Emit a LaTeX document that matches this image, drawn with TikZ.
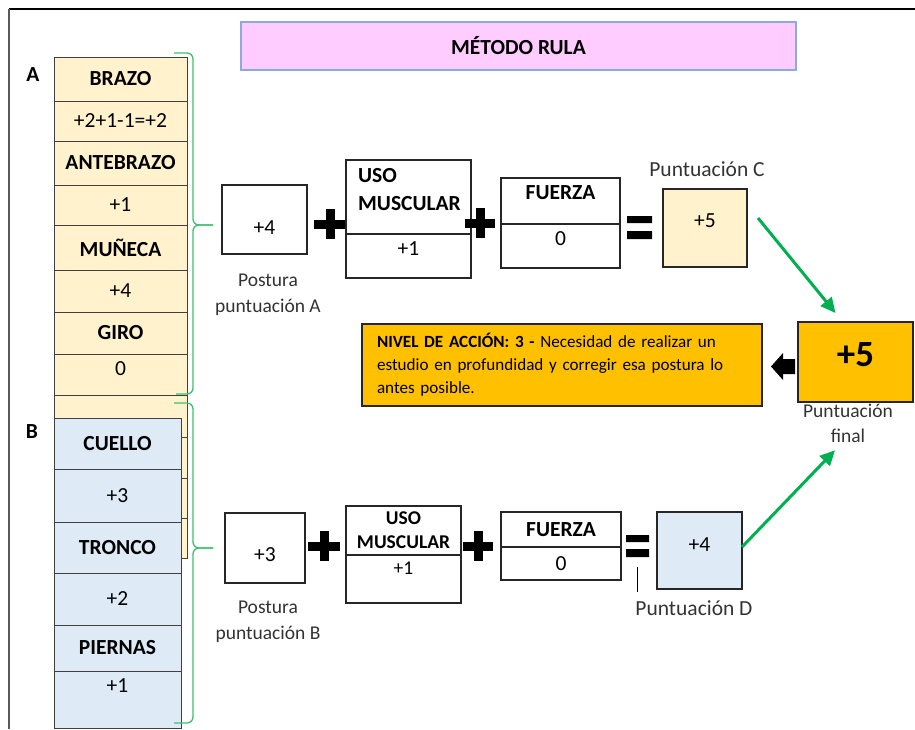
\documentclass[tikz,border=0pt]{standalone}
\usepackage{fontspec}
\setmainfont{Carlito}
\usepackage{xcolor}
\usepackage{tikz}
\usetikzlibrary{positioning, arrows.meta}

\definecolor{beige}{HTML}{FFF2CC}
\definecolor{paleblue}{HTML}{DEEBF7}
\definecolor{amber}{HTML}{FFC000}
\definecolor{titlepink}{HTML}{FFCCFF}
\definecolor{titleblue}{HTML}{8EA9DB}
\definecolor{cellline}{HTML}{404040}
\definecolor{boxline}{HTML}{262626}
\definecolor{lblgray}{HTML}{333333}
\definecolor{bracegreen}{HTML}{3CBF6E}
\definecolor{flowgreen}{HTML}{00B050}

\newcommand{\txtfont}{\fontsize{21.5}{25}\selectfont}
\newcommand{\lblfont}{\fontsize{19.5}{25.5}\selectfont}
\newcommand{\notefont}{\fontsize{17.1}{23}\selectfont}
\newcommand{\scorefont}{\fontsize{37}{40}\selectfont}

\begin{document}
\begin{tikzpicture}[x=1pt, y=-1pt,
    cell/.style={draw=cellline, line width=1pt, outer sep=0pt, inner sep=0pt, font=\txtfont},
    cellA/.style={cell, fill=beige, minimum width=133pt},
    cellB/.style={cell, fill=paleblue, minimum width=127pt},
    box/.style={draw=boxline, line width=1.2pt, outer sep=0pt, inner sep=0pt, font=\txtfont},
    lbl/.style={font=\lblfont, text=lblgray, align=center, inner sep=0pt},
    opsign/.style={line width=9pt},
    curly/.style={draw=bracegreen, line width=1.3pt, rounded corners=6pt},
    flow/.style={draw=flowgreen, line width=3pt, -{Triangle[length=15pt,width=14pt]}}]
        \useasboundingbox (0,0) rectangle (915,729);
        % Marco
        \draw[line width=1.2pt] (9,9) -- (915,9);
        \draw[line width=1.2pt, draw=gray!70!black] (9,9) -- (9,729);
        % Titulo
        \node[draw=titleblue, fill=titlepink, line width=1.5pt, minimum width=555pt, minimum height=48pt, font=\txtfont\bfseries] (title) at (518.5,46) {MÉTODO RULA};
        % Grupo A
        \node[font=\txtfont\bfseries, inner sep=0pt] (labA) at (33,75) {A};
        \node[cellA, minimum height=44pt] (a1) at (120.5,79) {\bfseries BRAZO};
        \node[cellA, minimum height=40pt, below=0pt of a1] (a2) {+2+1-1=+2};
        \node[cellA, minimum height=44pt, below=0pt of a2] (a3) {\bfseries ANTEBRAZO};
        \node[cellA, minimum height=40pt, below=0pt of a3] (a4) {+1};
        \node[cellA, minimum height=45pt, below=0pt of a4] (a5) {\bfseries MUÑECA};
        \node[cellA, minimum height=42pt, below=0pt of a5] (a6) {+4};
        \node[cellA, minimum height=42pt, below=0pt of a6] (a7) {\bfseries GIRO};
        \node[cellA, minimum height=41pt, text depth=11pt, below=0pt of a7] (a8) {0};
        \foreach \h [count=\i from 9] in {42,41,40,40} {
            \pgfmathtruncatemacro\j{\i-1}
            \node[cellA, minimum height=\h pt, below=0pt of a\j] (a\i) {};
        }
        \draw[curly] (174,53) -- (193,53) -- (193,225) -- (213,225);
        \draw[curly] (213,225) -- (193,225) -- (193,394) -- (176,394);
        % Grupo B
        \node[font=\txtfont\bfseries, inner sep=0pt] (labB) at (32,432) {B};
        \node[cellB, minimum height=51pt] (b1) at (117.5,443.5) {\bfseries CUELLO};
        \node[cellB, minimum height=53pt, below=0pt of b1] (b2) {+3};
        \node[cellB, minimum height=51pt, below=0pt of b2] (b3) {\bfseries TRONCO};
        \node[cellB, minimum height=52pt, below=0pt of b3] (b4) {+2};
        \node[cellB, minimum height=46pt, below=0pt of b4] (b5) {\bfseries PIERNAS};
        \node[cellB, minimum height=57pt, text depth=27pt, below=0pt of b5] (b6) {+1};
        \draw[curly] (174,403) -- (193,403) -- (193,548) -- (213,548);
        \draw[curly] (213,548) -- (193,548) -- (193,723) -- (174,723);
        % Fila A
        \node[box, minimum width=85pt, minimum height=69pt, text height=30pt] (postA) at (264.5,219.5) {+4};
        \node[lbl] (lblA) at (268,295) {Postura\\puntuación A};
        \draw[opsign] (314,224) -- (346,224) (330,209) -- (330,239);
        \node[box, minimum width=125pt, minimum height=74pt] (usoA) at (408.5,197) {};
        \node[box, minimum width=125pt, minimum height=44pt, text depth=14pt, below=0pt of usoA] (usoAval) {+1};
        \node[font=\fontsize{21.5}{28}\selectfont\bfseries, align=left, inner sep=0pt, anchor=north west] (usoAtxt) at (358,168) {USO\\MUSCULAR};
        \draw[opsign] (465,223) -- (495,223) (480,208) -- (480,238);
        \node[box, minimum width=119pt, minimum height=46pt, text depth=16pt] (fzaA) at (560.5,201) {\bfseries FUERZA};
        \node[box, minimum width=119pt, minimum height=44pt, text depth=14pt, below=0pt of fzaA] (fzaAval) {0};
        \fill (627,216) rectangle (652,223) (627,231) rectangle (652,239);
        \node[box, fill=beige, minimum width=84pt, minimum height=78pt, text depth=14pt] (scoreC) at (705,228) {+5};
        \node[lbl, font=\txtfont] (lblC) at (707,169) {Puntuación C};
        % Resultado
        \node[box, fill=amber, minimum width=115pt, minimum height=80pt, text depth=16pt, font=\scorefont\bfseries] (final) at (855.5,362) {+5};
        \node[lbl] (lblFinal) at (848,423.5) {Puntuación\\final};
        \node[box, fill=amber, minimum width=400pt, minimum height=82pt, font=\notefont, align=left, text width=370pt] (accion) at (562,365) {\textbf{NIVEL DE ACCIÓN: 3 -} Necesidad de realizar un\\estudio en profundidad y corregir esa postura lo\\antes posible.};
        \fill (771,366.5) -- (783,353) -- (783,359) -- (795,359) -- (795,374) -- (783,374) -- (783,380) -- cycle;
        % Fila B
        \node[box, minimum width=80pt, minimum height=70pt, text height=27pt] (postB) at (265,548) {+3};
        \node[lbl] (lblB) at (268,622) {Postura\\puntuación B};
        \draw[opsign] (308,546) -- (340,546) (324,531) -- (324,561);
        \node[box, minimum width=115pt, minimum height=49pt, font=\fontsize{19.5}{24}\selectfont\bfseries, align=center] (usoB) at (403.5,530.5) {USO\\MUSCULAR};
        \node[box, minimum width=115pt, minimum height=48pt, text depth=22pt, font=\lblfont, below=0pt of usoB] (usoBval) {+1};
        \draw[opsign] (463,546) -- (493,546) (478,531) -- (478,561);
        \node[box, minimum width=120pt, minimum height=35pt] (fzaB) at (561,529.5) {\bfseries FUERZA};
        \node[box, minimum width=120pt, minimum height=33pt, below=0pt of fzaB] (fzaBval) {0};
        \fill (626,535) rectangle (649,542) (626,549) rectangle (649,557);
        \node[box, fill=paleblue, minimum width=85pt, minimum height=77pt, text depth=11pt] (scoreD) at (699.5,550.5) {+4};
        \node[lbl, font=\txtfont] (lblD) at (694,608) {Puntuación D};
        \coordinate (eqD) at (637,567);
        \draw[line width=1pt, shorten >=8pt] (eqD) -- (eqD |- lblD.north);
        % Flechas
        \draw[flow] ([xshift=11pt, yshift=10pt]scoreC.east) -- ([xshift=-20pt, yshift=9pt]final.north);
        \draw[flow] ([yshift=3.5pt]scoreD.east) -- ([xshift=-13pt, yshift=-7pt]lblFinal.south);
    \end{tikzpicture}
\end{document}
